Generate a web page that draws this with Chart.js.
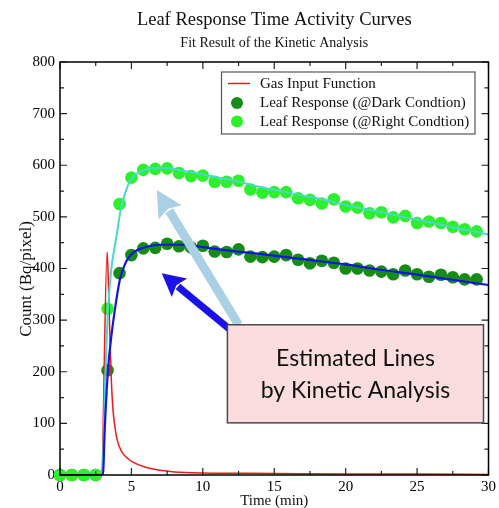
<!DOCTYPE html>
<html>
<head>
<meta charset="utf-8">
<script src="https://cdn.jsdelivr.net/npm/chart.js@4.4.1/dist/chart.umd.min.js"></script>
<style>
  html, body { margin: 0; padding: 0; background: #ffffff; }
  #wrap { width: 499px; height: 508px; }
</style>
</head>
<body>
<div id="wrap"><canvas id="c" width="499" height="508"></canvas></div>
<script>
// ---------- data ----------
const titleText = "Leaf Response Time Activity Curves";
const subtitleText = "Fit Result of the Kinetic Analysis";
const xTitle = "Time (min)";
const yTitle = "Count (Bq/pixel)";
const annotationLines = ["Estimated Lines", "by Kinetic Analysis"];

const xTickValues = [0, 5, 10, 15, 20, 25, 30];
const yTickValues = [0, 100, 200, 300, 400, 500, 600, 700, 800];

// frame times (min)
const frameTimes = [0, 0.83, 1.67, 2.5, 3.33, 4.17, 5, 5.83, 6.67, 7.5, 8.33, 9.17,
  10, 10.83, 11.67, 12.5, 13.33, 14.17, 15, 15.83, 16.67, 17.5, 18.33, 19.17,
  20, 20.83, 21.67, 22.5, 23.33, 24.17, 25, 25.83, 26.67, 27.5, 28.33, 29.17];

const darkCounts = [0, 0, 0, 0, 203, 391, 426, 439, 440, 448, 443, 441,
  444, 433, 432, 437, 423, 422, 423, 426, 417, 410, 415, 411,
  400, 400, 396, 394, 389, 396, 389, 384, 388, 383, 379, 379];

const rightCounts = [0, 0, 0, 0, 322, 525, 576, 591, 593, 594, 585, 579,
  580, 568, 568, 570, 553, 547, 548, 548, 536, 533, 526, 534,
  520, 518, 507, 509, 499, 502, 488, 491, 488, 481, 476, 472];

// gas input function
const gasTimes  = [0, 2.9, 3.3, 3.4, 3.5, 3.6, 3.7, 3.85, 4.0, 4.3, 4.7, 5.1, 6, 7, 8, 10, 15, 20, 25, 30];
const gasValues = [0, 0, 432, 360, 262, 180, 130, 92, 68, 46, 33, 25, 15, 9, 6, 4, 3, 2, 2, 1];

// estimated (fit) lines
const darkFitTimes  = [0, 3.0, 3.15, 3.35, 3.6, 3.84, 4.19, 4.5, 4.77, 5.2, 5.7, 6.4, 7.1, 8.5, 10.1, 12, 14.65, 17, 20, 22.3, 25, 27.5, 30];
const darkFitValues = [0, 0, 100, 200, 270, 320, 378, 405, 420, 432, 439, 444, 446, 446, 441, 434, 426, 418, 408, 398, 388, 378, 368];

const rightFitTimes  = [0, 2.95, 3.15, 3.35, 3.6, 3.95, 4.3, 4.77, 5.2, 5.7, 6.5, 7.5, 8.5, 9.5, 10.5, 11.5, 12.5, 14, 16, 18, 20, 22, 24, 26, 28, 30];
const rightFitValues = [0, 0, 170, 315, 400, 462, 520, 562, 580, 588, 594, 594, 590, 585, 579, 574, 568, 558, 547, 536, 523, 512, 500, 489, 477, 466];

const legendLabels = ["Gas Input Function", "Leaf Response (@Dark Condtion)", "Leaf Response (@Right Condtion)"];

// ---------- styling ----------
const SERIF = "'Liberation Serif', 'Times New Roman', serif";
const colors = {
  gas: '#f01818',
  dark: '#168c16',
  right: '#2cf02c',
  darkFit: '#1414e0',
  rightFit: '#48d8cc',
  arrowLight: '#a9d0e4',
  arrowDark: '#1a12e6',
  boxFill: '#fbdcdf'
};

// annotation placement in data units
const annot = {
  lightArrow: { from: { x: 12.5, y: 291 }, to: { x: 6.77, y: 552 } },
  darkArrow:  { from: { x: 12.2, y: 275 }, to: { x: 7.12, y: 391 } },
  box: { x0: 11.72, x1: 29.65, y0: 291, y1: 101 }
};

function pts(xs, ys) { return xs.map((v, i) => ({ x: v, y: ys[i] })); }

function drawArrow(ctx, x1, y1, x2, y2, color, shaftW, headL, headW) {
  const ang = Math.atan2(y2 - y1, x2 - x1);
  const c = Math.cos(ang), s = Math.sin(ang);
  const bx = x2 - headL * c, by = y2 - headL * s;
  ctx.strokeStyle = color; ctx.lineWidth = shaftW; ctx.lineCap = 'butt';
  ctx.beginPath(); ctx.moveTo(x1, y1); ctx.lineTo(bx + 2 * c, by + 2 * s); ctx.stroke();
  ctx.fillStyle = color;
  ctx.beginPath();
  ctx.moveTo(x2, y2);
  ctx.lineTo(bx + (headW / 2) * s, by - (headW / 2) * c);
  ctx.lineTo(bx + 4 * c, by + 4 * s);
  ctx.lineTo(bx - (headW / 2) * s, by + (headW / 2) * c);
  ctx.closePath(); ctx.fill();
}

const decor = {
  id: 'decor',
  afterDraw(chart) {
    const { ctx, chartArea: a, scales: { x, y } } = chart;
    ctx.save();

    // inward tick marks on all four sides
    ctx.strokeStyle = '#222'; ctx.lineWidth = 1.2;
    const majL = 7, minL = 4;
    const xs = [];
    xTickValues.forEach((v, i) => {
      xs.push([v, majL]);
      if (i < xTickValues.length - 1) xs.push([(v + xTickValues[i + 1]) / 2, minL]);
    });
    xs.forEach(([v, L]) => {
      const px = x.getPixelForValue(v);
      ctx.beginPath();
      ctx.moveTo(px, a.bottom); ctx.lineTo(px, a.bottom - L);
      ctx.moveTo(px, a.top); ctx.lineTo(px, a.top + L);
      ctx.stroke();
    });
    const ys = [];
    yTickValues.forEach((v, i) => {
      ys.push([v, majL]);
      if (i < yTickValues.length - 1) ys.push([(v + yTickValues[i + 1]) / 2, minL]);
    });
    ys.forEach(([v, L]) => {
      const py = y.getPixelForValue(v);
      ctx.beginPath();
      ctx.moveTo(a.left, py); ctx.lineTo(a.left + L, py);
      ctx.moveTo(a.right, py); ctx.lineTo(a.right - L, py);
      ctx.stroke();
    });

    // frame
    ctx.strokeStyle = '#000'; ctx.lineWidth = 1.5;
    ctx.strokeRect(a.left, a.top, a.right - a.left, a.bottom - a.top);

    // arrows
    const la = annot.lightArrow, da = annot.darkArrow;
    drawArrow(ctx, x.getPixelForValue(la.from.x), y.getPixelForValue(la.from.y),
      x.getPixelForValue(la.to.x), y.getPixelForValue(la.to.y), colors.arrowLight, 9, 26, 27);
    drawArrow(ctx, x.getPixelForValue(da.from.x), y.getPixelForValue(da.from.y),
      x.getPixelForValue(da.to.x), y.getPixelForValue(da.to.y), colors.arrowDark, 7, 23, 24);

    // annotation box
    const bx0 = x.getPixelForValue(annot.box.x0), bx1 = x.getPixelForValue(annot.box.x1);
    const by0 = y.getPixelForValue(annot.box.y0), by1 = y.getPixelForValue(annot.box.y1);
    ctx.fillStyle = colors.boxFill;
    ctx.fillRect(bx0, by0, bx1 - bx0, by1 - by0);
    ctx.strokeStyle = '#4a4a4a'; ctx.lineWidth = 1.5;
    ctx.strokeRect(bx0, by0, bx1 - bx0, by1 - by0);
    ctx.fillStyle = '#111';
    ctx.font = "23px Lato, 'Open Sans', sans-serif";
    ctx.textAlign = 'center'; ctx.textBaseline = 'middle';
    const bcx = (bx0 + bx1) / 2, bcy = (by0 + by1) / 2;
    ctx.fillText(annotationLines[0], bcx, bcy - 15);
    ctx.fillText(annotationLines[1], bcx, bcy + 17);

    // legend
    const lx0 = 221.5, ly0 = 72, lw = 253.5, lh = 62;
    ctx.fillStyle = '#fff';
    ctx.fillRect(lx0, ly0, lw, lh);
    ctx.strokeStyle = '#555'; ctx.lineWidth = 1.2;
    ctx.strokeRect(lx0, ly0, lw, lh);
    ctx.font = "15px " + SERIF;
    ctx.textAlign = 'left'; ctx.textBaseline = 'middle';
    const rows = [83.5, 103, 121.5];
    // row 1: line sample
    ctx.strokeStyle = colors.gas; ctx.lineWidth = 1.5;
    ctx.beginPath(); ctx.moveTo(228, rows[0]); ctx.lineTo(250, rows[0]); ctx.stroke();
    // rows 2,3: markers
    [colors.dark, colors.right].forEach((c, i) => {
      ctx.fillStyle = c;
      ctx.beginPath(); ctx.arc(237, rows[i + 1], 6, 0, Math.PI * 2); ctx.fill();
    });
    ctx.fillStyle = '#111';
    legendLabels.forEach((t, i) => ctx.fillText(t, 260, rows[i] + 0.5));

    // titles
    const cx = (a.left + a.right) / 2;
    ctx.textAlign = 'center'; ctx.textBaseline = 'middle';
    ctx.font = "18.5px " + SERIF;
    ctx.fillText(titleText, cx, 20.5);
    ctx.font = "14px " + SERIF;
    ctx.fillText(subtitleText, cx, 43.5);
    ctx.font = "15px " + SERIF;
    ctx.fillText(xTitle, cx, 501);
    ctx.save();
    ctx.translate(27, 279);
    ctx.rotate(-Math.PI / 2);
    ctx.font = "17px " + SERIF;
    ctx.fillText(yTitle, 0, 0);
    ctx.restore();

    ctx.restore();
  }
};

new Chart(document.getElementById('c'), {
  type: 'scatter',
  data: {
    datasets: [
      { label: legendLabels[0], data: pts(gasTimes, gasValues), showLine: true,
        borderColor: colors.gas, borderWidth: 1.5, pointRadius: 0, cubicInterpolationMode: 'monotone', order: 1, clip: false },
      { label: legendLabels[1], data: pts(frameTimes, darkCounts), showLine: false,
        backgroundColor: colors.dark, borderColor: colors.dark, pointRadius: 6.3, pointBorderWidth: 0, order: 3, clip: false },
      { label: legendLabels[2], data: pts(frameTimes, rightCounts), showLine: false,
        backgroundColor: colors.right, borderColor: colors.right, pointRadius: 6.3, pointBorderWidth: 0, order: 2, clip: false },
      { label: 'fit dark', data: pts(darkFitTimes, darkFitValues), showLine: true,
        borderColor: colors.darkFit, borderWidth: 2.2, pointRadius: 0, cubicInterpolationMode: 'monotone', order: 0 },
      { label: 'fit right', data: pts(rightFitTimes, rightFitValues), showLine: true,
        borderColor: colors.rightFit, borderWidth: 2, pointRadius: 0, cubicInterpolationMode: 'monotone', order: 0 }
    ]
  },
  options: {
    responsive: false,
    animation: false,
    events: [],
    layout: { padding: { top: 62, right: 9, left: 0, bottom: 0 } },
    plugins: { legend: { display: false }, tooltip: { enabled: false }, title: { display: false } },
    scales: {
      x: {
        type: 'linear', min: 0, max: 30,
        afterBuildTicks: s => { s.ticks = xTickValues.map(v => ({ value: v })); },
        afterFit: s => { s.height = 33; },
        grid: { display: false, drawTicks: false },
        border: { display: false },
        ticks: { color: '#000', padding: 3, maxRotation: 0, font: { family: SERIF, size: 15 } }
      },
      y: {
        type: 'linear', min: 0, max: 800,
        afterBuildTicks: s => { s.ticks = yTickValues.map(v => ({ value: v })); },
        afterFit: s => { s.width = 60; },
        grid: { display: false, drawTicks: false },
        border: { display: false },
        ticks: { color: '#000', padding: 5, font: { family: SERIF, size: 15 } }
      }
    }
  },
  plugins: [decor]
});
</script>
</body>
</html>
